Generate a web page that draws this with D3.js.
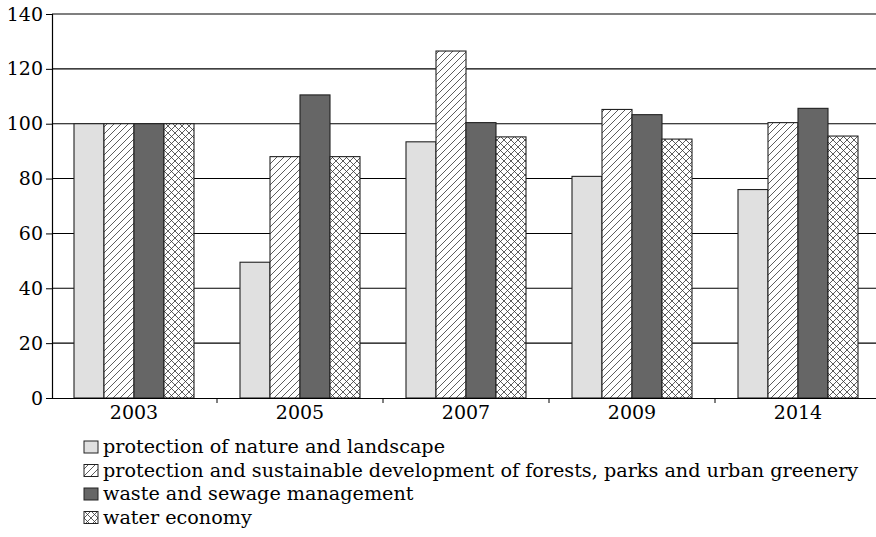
<!DOCTYPE html>
<html><head><meta charset="utf-8">
<script src="https://cdn.jsdelivr.net/npm/d3@7"></script>
<style>body{margin:0;background:#fff}svg{display:block}</style>
</head><body>
<svg id="c" width="876" height="537"></svg>
<script>
const years = ["2003","2005","2007","2009","2014"];
const seriesNames = [
  "protection of nature and landscape",
  "protection and sustainable development of forests, parks and urban greenery",
  "waste and sewage management",
  "water economy"
];
const natureValues = [100, 49.5, 93.4, 80.8, 76.0];
const forestValues = [100, 88.0, 126.5, 105.2, 100.4];
const wasteValues = [100, 110.5, 100.4, 103.3, 105.6];
const waterValues = [100, 88.0, 95.2, 94.4, 95.5];
const yTicks = [0, 20, 40, 60, 80, 100, 120, 140];

const allSeries = [natureValues, forestValues, wasteValues, waterValues];
const fills = ["#e0e0e0", "url(#hatch)", "#666666", "url(#cross)"];

const svg = d3.select("#c");
const font = "'DejaVu Serif', serif";
const defs = svg.append("defs");
const ph = defs.append("pattern").attr("id","hatch").attr("patternUnits","userSpaceOnUse")
  .attr("width",7).attr("height",7);
ph.append("rect").attr("width",7).attr("height",7).attr("fill","#fff");
ph.append("path").attr("d","M-1,1 l2,-2 M0,7 l7,-7 M6,8 l2,-2").attr("stroke","#333").attr("stroke-width",0.8);
const pc = defs.append("pattern").attr("id","cross").attr("patternUnits","userSpaceOnUse")
  .attr("width",7).attr("height",7);
pc.append("rect").attr("width",7).attr("height",7).attr("fill","#fff");
pc.append("path").attr("d","M-1,1 l2,-2 M0,7 l7,-7 M6,8 l2,-2 M-1,6 l2,2 M0,0 l7,7 M6,-1 l2,2").attr("stroke","#333").attr("stroke-width",0.8);

const x = d3.scaleBand().domain(years).range([51, 881]);
const xs = d3.scaleBand().domain(d3.range(4)).range([23, 143]);
const y = d3.scaleLinear().domain([0, 140]).range([398, 14]);

// gridlines
svg.append("g").selectAll("line").data(yTicks.filter(d=>d>0)).join("line")
  .attr("x1",52).attr("x2",876).attr("y1",d=>y(d)).attr("y2",d=>y(d))
  .attr("stroke","#000").attr("stroke-width",1.1);

// bars
const g = svg.append("g");
years.forEach((yr, i) => {
  allSeries.forEach((s, k) => {
    g.append("rect")
      .attr("x", x(yr) + xs(k))
      .attr("y", y(s[i]))
      .attr("width", xs.bandwidth())
      .attr("height", y(0) - y(s[i]))
      .attr("fill", fills[k])
      .attr("stroke", "#222").attr("stroke-width", 1.1);
  });
});

// y axis
const ya = svg.append("g").attr("transform","translate(52,0)")
  .call(d3.axisLeft(y).tickValues(yTicks).tickSize(6).tickPadding(3));
ya.select(".domain").attr("stroke","#000").attr("stroke-width",1.2);
ya.selectAll("text").attr("font-family",font).attr("font-size",19).attr("fill","#000");

// x axis
const xa = svg.append("g").attr("transform","translate(0,398)")
  .call(d3.axisBottom(x).tickSize(0).tickPadding(8));
xa.select(".domain").attr("stroke","#000").attr("stroke-width",1.2);
xa.selectAll("text").attr("font-family",font).attr("font-size",19).attr("fill","#000");
xa.append("g").selectAll("line").data(years.slice(1)).join("line")
  .attr("x1",d=>x(d)).attr("x2",d=>x(d)).attr("y1",0).attr("y2",5).attr("stroke","#000");

// legend
const lg = svg.append("g");
seriesNames.forEach((n, k) => {
  const yy = 447 + k * 23.5;
  lg.append("rect").attr("x",84).attr("y",yy-6).attr("width",14).attr("height",12)
    .attr("fill",fills[k]).attr("stroke","#222").attr("stroke-width",1);
  lg.append("text").attr("x",103).attr("y",yy+6).text(n)
    .attr("font-family",font).attr("font-size",19.2).attr("fill","#000");
});
</script>
</body></html>
